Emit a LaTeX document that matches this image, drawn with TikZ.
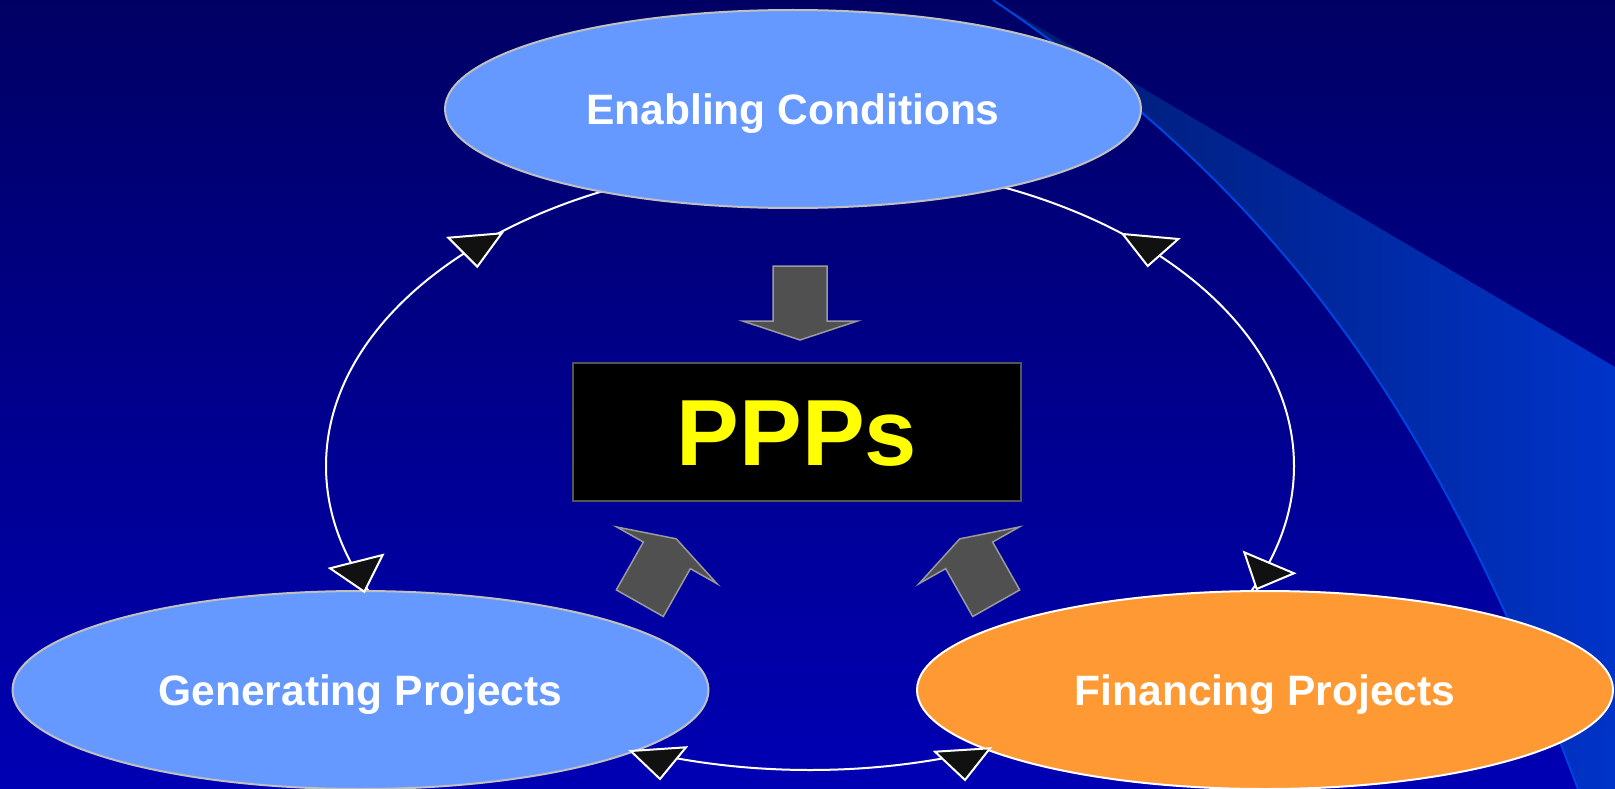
\documentclass[tikz,border=0pt]{standalone}
\usepackage{fontspec}
\setmainfont{Liberation Sans}
\usetikzlibrary{shapes.geometric}
\definecolor{bgtop}{RGB}{0,0,100}
\definecolor{bgbot}{RGB}{0,0,180}
\definecolor{ovalblue}{HTML}{6699FF}
\definecolor{ovalorange}{HTML}{FF9933}
\definecolor{ovalrim}{HTML}{C0C0C0}
\definecolor{swooshline}{HTML}{0044E0}
\definecolor{swooshfill}{HTML}{0033C8}
\definecolor{swooshdark}{HTML}{001A6C}
\definecolor{blockgray}{HTML}{505050}
\definecolor{blockrim}{HTML}{9A9A9A}
\definecolor{headfill}{HTML}{111111}
\definecolor{pppyellow}{HTML}{FFFF00}
\definecolor{boxrim}{HTML}{555555}
\begin{document}
\begin{tikzpicture}[x=1pt,y=-1pt,
  oval/.style={ellipse, minimum width=696pt, minimum height=198pt, inner sep=0pt,
    line width=2pt, text=white, text height=30.4pt, text depth=0pt,
    font=\fontsize{42.5}{50}\selectfont\bfseries},
  loopline/.style={ellipse, draw=white, line width=2pt, minimum width=968pt,
    minimum height=608pt, inner sep=0pt},
  headtri/.style={fill=headfill, draw=white, line width=2pt, line join=miter},
  pppbox/.style={rectangle, fill=black, draw=boxrim, line width=2pt,
    minimum width=448pt, minimum height=138pt, inner sep=0pt, text=pppyellow,
    text height=67.3pt, text depth=0pt, font=\fontsize{94}{100}\selectfont\bfseries},
  blockarrow/.pic={\filldraw[fill=blockgray, draw=blockrim, line width=1.5pt]
    (-27,37) -- (27,37) -- (27,-18) -- (57.5,-18) -- (0,-37) -- (-57.5,-18) -- (-27,-18) -- cycle;}
]
\useasboundingbox (0,0) rectangle (1615,789);
% background
\shade[top color=bgtop, bottom color=bgbot] (0,0) rectangle (1615,789);
% decorative swoosh
\coordinate (sw1) at (993,0);
\coordinate (sw2) at (1578,789);
\shade[left color=swooshdark, right color=swooshfill]
  (sw1) .. controls (1283.5,196) and (1437,415) .. (sw2) -- (1615,789) -- (1615,367) -- cycle;
\draw[swooshline, line width=2pt] (sw1) .. controls (1283.5,196) and (1437,415) .. (sw2);
% cycle connector (passes under the ovals)
\node[loopline] (loop) at (810,466) {};
% ovals
\node[oval, fill=ovalblue, draw=ovalrim] (enab) at (793,109) {Enabling Conditions};
\node[oval, fill=ovalblue, draw=ovalrim] (gen) at (360.5,690) {Generating Projects};
\node[oval, fill=ovalorange, draw=white] (fin) at (1265,690) {Financing Projects};
% arrowheads on the cycle
\filldraw[headtri] (448.3,237.7) -- (501.7,233.3) -- (477.3,266.7) -- cycle;
\filldraw[headtri] (1122.7,234) -- (1178.3,239) -- (1147.7,266) -- cycle;
\filldraw[headtri] (330,568.3) -- (382.7,555) -- (364.3,591.7) -- cycle;
\filldraw[headtri] (1244.3,552.3) -- (1294,573.3) -- (1256.7,589) -- cycle;
\filldraw[headtri] (630.7,751) -- (686,747.3) -- (660,779) -- cycle;
\filldraw[headtri] (935,751.7) -- (990,748.3) -- (965,780) -- cycle;
% central box
\node[pppbox] (ppp) at (797,432) {PPPs};
% block arrows
\pic[rotate=180] at (800,303) {blockarrow};
\pic[rotate=-29.5] at (658,571) {blockarrow};
\pic[rotate=29.5] at (978,571) {blockarrow};
\end{tikzpicture}
\end{document}
